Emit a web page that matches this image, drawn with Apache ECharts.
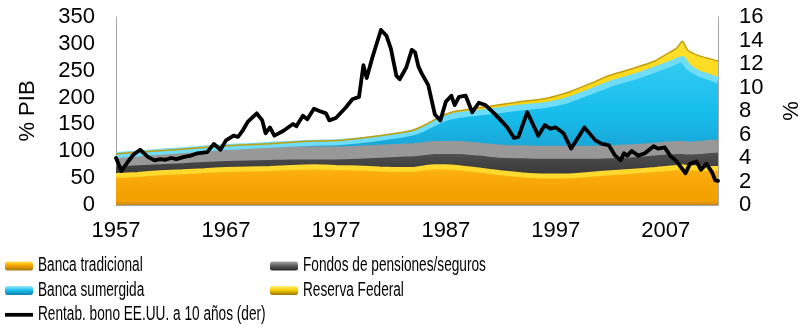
<!DOCTYPE html>
<html>
<head>
<meta charset="utf-8">
<script src="https://cdn.jsdelivr.net/npm/echarts@6/dist/echarts.min.js"></script>
<style>
  html, body { margin: 0; padding: 0; background: #ffffff; }
  #chart { width: 811px; height: 335px; }
</style>
</head>
<body>
<div id="chart"></div>
<script>
// Sample years for the stacked layers (% of GDP)
const areaYears = [1957, 1959, 1961, 1963, 1965, 1967, 1969, 1971, 1973, 1975, 1977, 1979, 1981, 1983, 1984,
  1985, 1986, 1987, 1988, 1990, 1992, 1994, 1996, 1998, 2000, 2002, 2004, 2006, 2007, 2008, 2008.5,
  2009, 2010, 2011, 2011.75];

// Layer contributions, % of GDP
const bancaTradicional = [55, 57, 60, 62, 64, 66, 67, 68, 70, 71, 70, 69, 67, 66, 66,
  69, 71, 71, 70, 65, 60, 56, 54, 54, 57, 60, 63, 66, 68, 70, 71,
  70, 69, 68, 68];
const fondosPensiones = [29, 29, 28, 28, 28, 28, 28, 28, 27, 26, 27, 29, 33, 36, 37,
  36, 36, 36, 37, 39, 40, 43, 44, 44, 41, 39, 38, 38, 38, 37, 36,
  36, 38, 41, 42];
const bancaSumergida = [9, 10, 11, 12, 13, 14, 15, 16, 17, 19, 20, 22, 25, 29, 32,
  38, 46, 55, 60, 68, 77, 83, 88, 97, 112, 127, 137, 148, 154, 161, 165,
  152, 138, 129, 122];
const reservaFederal = [2, 2, 2, 2, 2, 2, 2, 2, 3, 3, 3, 4, 4, 4, 4,
  5, 6, 7, 8, 9, 10, 11, 12, 14, 15, 16, 16, 16, 20, 24, 33,
  30, 33, 34, 36];

// 10-year US Treasury yield, % (right axis)
const yieldYears = [1957.0, 1957.5, 1958.1, 1958.6, 1959.2, 1959.9, 1960.5, 1961.0, 1961.5, 1962.0, 1962.5,
  1963.2, 1963.8, 1964.4, 1965.3, 1965.9, 1966.5, 1967.0, 1967.7, 1968.1, 1968.5, 1969.0, 1969.8,
  1970.3, 1970.6, 1971.0, 1971.4, 1972.2, 1973.1, 1973.4, 1974.0, 1974.4, 1975.0, 1975.5, 1976.1,
  1976.4, 1977.0, 1977.9, 1978.5, 1979.1, 1979.5, 1979.8, 1980.3, 1980.7, 1981.1, 1981.6, 1982.0,
  1982.5, 1982.8, 1983.4, 1983.9, 1984.2, 1984.5, 1984.8, 1985.4, 1986.0, 1986.5, 1987.0, 1987.5,
  1987.8, 1988.2, 1988.8, 1989.4, 1990.0, 1990.6, 1991.4, 1992.0, 1992.6, 1993.2, 1993.6, 1994.4,
  1994.8, 1995.4, 1996.0, 1996.5, 1997.0, 1997.7, 1998.4, 1999.6, 2000.6, 2001.2, 2001.8, 2002.4,
  2002.9, 2003.2, 2003.5, 2003.9, 2004.5, 2005.1, 2005.9, 2006.3, 2006.9, 2007.4, 2008.0, 2008.8,
  2009.2, 2009.8, 2010.2, 2010.7, 2011.2, 2011.5, 2011.75];
const yieldValues = [4.0, 2.9, 3.7, 4.3, 4.7, 4.1, 3.8, 3.9, 3.85, 4.0, 3.9,
  4.1, 4.2, 4.4, 4.5, 5.2, 4.7, 5.5, 5.9, 5.8, 6.3, 7.1, 7.8,
  7.2, 6.1, 6.6, 5.9, 6.3, 6.9, 6.7, 7.6, 7.3, 8.2, 8.0, 7.8,
  7.2, 7.4, 8.3, 9.0, 9.2, 11.9, 10.8, 12.5, 13.7, 14.9, 14.4, 13.3,
  11.0, 10.7, 11.7, 13.2, 13.0, 11.8, 11.2, 10.2, 7.7, 7.2, 8.8, 9.3,
  8.5, 9.2, 9.3, 7.9, 8.7, 8.5, 7.8, 7.2, 6.6, 5.7, 5.8, 7.9,
  7.1, 5.9, 6.8, 6.5, 6.6, 6.1, 4.8, 6.6, 5.5, 5.2, 5.1, 4.2,
  3.8, 4.4, 4.2, 4.6, 4.2, 4.4, 5.0, 4.8, 4.9, 4.2, 3.7, 2.7,
  3.5, 3.7, 3.0, 3.5, 2.8, 2.1, 2.05];

const leftTicks = { min: 0, max: 350, step: 50 };
const rightTicks = { min: 0, max: 16, step: 2 };
const yearTicks = { min: 1957, max: 2011.75, step: 10 };

const names = {
  trad: 'Banca tradicional',
  fondos: 'Fondos de pensiones/seguros',
  sumergida: 'Banca sumergida',
  fed: 'Reserva Federal',
  bono: 'Rentab. bono EE.UU. a 10 años (der)'
};

const FONT = "'Liberation Sans', Arial, sans-serif";
const LEGEND_SQUEEZE = 0.7;   // narrow legend lettering

// Fractional year -> timestamp, so stacked layers sit on a time scale
function yearToTime(y) {
  const yr = Math.floor(y);
  const a = Date.UTC(yr, 0, 1), b = Date.UTC(yr + 1, 0, 1);
  return a + (y - yr) * (b - a);
}
function pairs(xs, ys, fx) { return xs.map((x, i) => [fx ? fx(x) : x, ys[i]]); }
function vgrad(stops) {
  return new echarts.graphic.LinearGradient(0, 0, 0, 1,
    stops.map(s => ({ offset: s[0], color: s[1] })));
}

const chart = echarts.init(document.getElementById('chart'), null, { renderer: 'canvas' });

function areaSeries(name, values, fill, edge, edgeWidth) {
  return {
    name: name,
    type: 'line',
    xAxisIndex: 1,
    stack: 'total',
    data: pairs(areaYears, values, yearToTime),
    symbol: 'none',
    smooth: 0.25,
    lineStyle: { color: edge, width: edgeWidth },
    areaStyle: { color: fill, opacity: 1 },
    itemStyle: { color: edge },
    emphasis: { disabled: true },
    z: 2
  };
}

const legendIcon = {
  trad: vgrad([[0, '#FFE24A'], [0.45, '#F7A500'], [1, '#A67610']]),
  fondos: vgrad([[0, '#A8A8A8'], [0.5, '#5A5A5A'], [1, '#262626']]),
  sumergida: vgrad([[0, '#9BEBFC'], [0.5, '#1ABDEB'], [1, '#137FAE']]),
  fed: vgrad([[0, '#FFF27A'], [0.5, '#F5C900'], [1, '#987800']])
};

const legendText = { fontSize: 19.5, color: '#000', fontFamily: FONT, lineHeight: 19 };

const axisCommon = {
  axisLine: { show: true, lineStyle: { color: '#A6A6A6', width: 1 } },
  axisTick: { show: false },
  splitLine: { show: false }
};

const option = {
  animation: false,
  backgroundColor: '#ffffff',
  grid: { left: 116, right: 84, top: 17, bottom: 130, containLabel: false },
  legend: [
    {
      orient: 'vertical', left: 5, top: 256, padding: 0, itemGap: 4.4,
      itemWidth: 28, itemHeight: 9, selectedMode: false,
      textStyle: legendText,
      itemStyle: { borderWidth: 0 },
      data: [
        { name: names.trad, icon: 'roundRect', itemStyle: { color: legendIcon.trad, borderWidth: 0 } },
        { name: names.sumergida, icon: 'roundRect', itemStyle: { color: legendIcon.sumergida, borderWidth: 0 } },
        { name: names.bono, icon: 'path://M0,0H30V4H0Z', itemStyle: { color: '#000', borderWidth: 0 } }
      ]
    },
    {
      orient: 'vertical', left: 270, top: 256, padding: 0, itemGap: 4.4,
      itemWidth: 28, itemHeight: 9, selectedMode: false,
      textStyle: legendText,
      itemStyle: { borderWidth: 0 },
      data: [
        { name: names.fondos, icon: 'roundRect', itemStyle: { color: legendIcon.fondos, borderWidth: 0 } },
        { name: names.fed, icon: 'roundRect', itemStyle: { color: legendIcon.fed, borderWidth: 0 } }
      ]
    }
  ],
  xAxis: [
    Object.assign({
      type: 'value',
      position: 'bottom',
      min: yearTicks.min,
      max: yearTicks.max,
      interval: yearTicks.step,
      axisLabel: {
        fontSize: 22, color: '#000', fontFamily: FONT, margin: 15,
        showMaxLabel: false,
        formatter: v => ((v - yearTicks.min) % yearTicks.step === 0 ? String(v) : '')
      }
    }, axisCommon),
    {
      type: 'time',
      position: 'bottom',
      show: false,
      min: yearToTime(yearTicks.min),
      max: yearToTime(yearTicks.max)
    }
  ],
  yAxis: [
    Object.assign({
      type: 'value',
      min: leftTicks.min, max: leftTicks.max, interval: leftTicks.step,
      name: '% PIB', nameLocation: 'middle', nameGap: 77,
      nameTextStyle: { fontSize: 22, color: '#000', fontFamily: FONT },
      axisLabel: { fontSize: 22, color: '#000', fontFamily: FONT, margin: 21 }
    }, axisCommon),
    Object.assign({
      type: 'value', position: 'right',
      min: rightTicks.min, max: rightTicks.max, interval: rightTicks.step,
      name: '%', nameLocation: 'middle', nameGap: 63,
      nameTextStyle: { fontSize: 22, color: '#000', fontFamily: FONT },
      axisLabel: { fontSize: 22, color: '#000', fontFamily: FONT, margin: 21 }
    }, axisCommon)
  ],
  series: [
    areaSeries(names.trad, bancaTradicional,
      vgrad([[0, '#FFC21A'], [0.15, '#FAAE0E'], [0.5, '#F7A506'], [0.9, '#F2A000'], [1, '#C8881A']]),
      '#FFD92E', 5),
    areaSeries(names.fondos, fondosPensiones,
      vgrad([[0, '#5A5A5A'], [0.5, '#464646'], [1, '#383838']]),
      '#989898', 13),
    areaSeries(names.sumergida, bancaSumergida,
      vgrad([[0, '#35CBF3'], [0.55, '#16BDEB'], [0.85, '#19A8DA'], [1, '#1C86B8']]),
      '#6FDDF8', 6),
    areaSeries(names.fed, reservaFederal,
      vgrad([[0, '#FFE22E'], [1, '#F4C600']]),
      '#C49E08', 1.5),
    {
      name: names.bono,
      type: 'line',
      xAxisIndex: 0,
      yAxisIndex: 1,
      data: pairs(yieldYears, yieldValues),
      symbol: 'none',
      lineStyle: { color: '#000', width: 3.8, join: 'round', cap: 'round' },
      itemStyle: { color: '#000' },
      emphasis: { disabled: true },
      z: 5
    }
  ]
};

chart.setOption(option);

// Narrow the legend lettering horizontally, keeping its height.
function squeezeLegendText() {
  const legendNames = new Set(Object.values(names));
  const zr = chart.getZr();
  zr.storage.getRoots().forEach(root => {
    root.traverse(el => {
      if (el.type === 'text' && el.style && legendNames.has(el.style.text)) {
        el.originX = el.style.x || 0;
        el.originY = el.style.y || 0;
        el.scaleX = LEGEND_SQUEEZE;
        el.dirty && el.dirty();
        el.markRedraw();
      }
    });
  });
  zr.refreshImmediately();
}
squeezeLegendText();
</script>
</body>
</html>
